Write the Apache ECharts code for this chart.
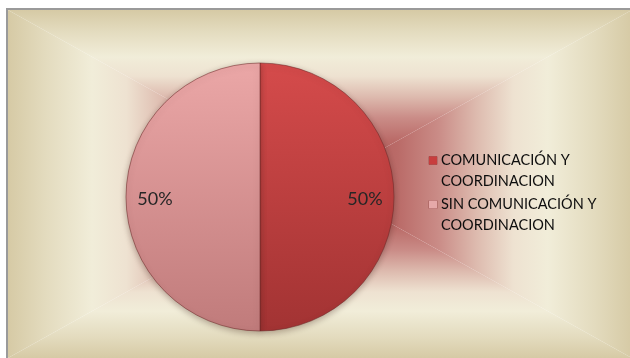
<!DOCTYPE html>
<html>
<head>
<meta charset="utf-8">
<script src="https://cdn.jsdelivr.net/npm/echarts@6/dist/echarts.min.js"></script>
<style>
  html, body { margin: 0; padding: 0; background: #ffffff; }
  #chart { width: 630px; height: 358px; }
</style>
</head>
<body>
<div id="chart"></div>
<script>
// Categories and their shares
const categories = ['COMUNICACIÓN Y COORDINACION', 'SIN COMUNICACIÓN Y COORDINACION'];
const values = [50, 50];

// Slice fills (top colour, bottom colour) and legend swatch colours
const sliceTop = ['#d54b4b', '#eba7a7'];
const sliceBottom = ['#a23333', '#c07b7b'];
const swatch = ['#c83e3e', '#e6a9a9'];

// Frame of the plot area
const W = 630, H = 358;
const fx0 = 8, fy0 = 10, fx1 = 632, fy1 = 358;
const cx = (fx0 + fx1) / 2, cy = (fy0 + fy1) / 2;

// Rectangular "from centre" backdrop: edge -> centre stops
const bgStops = [
  { offset: 0.00, color: '#d6caa5' },
  { offset: 0.12, color: '#e3dbbe' },
  { offset: 0.27, color: '#f1edd9' },
  { offset: 0.38, color: '#eee2d1' },
  { offset: 0.50, color: '#ddbaae' },
  { offset: 0.62, color: '#ca8c87' },
  { offset: 0.75, color: '#ba6b68' },
  { offset: 1.00, color: '#a84c4c' }
];
function grad(x, y, x2, y2) {
  return { type: 'linear', x: x, y: y, x2: x2, y2: y2, colorStops: bgStops };
}

const chart = echarts.init(document.getElementById('chart'), null, { renderer: 'canvas' });

const backdrop = [
  { type: 'rect', z: -10, shape: { x: 0, y: 0, width: W, height: H }, style: { fill: '#ffffff' } },
  { type: 'polygon', z: -9, shape: { points: [[fx0, fy0], [fx1, fy0], [cx, cy]] }, style: { fill: grad(0, 0, 0, 1), stroke: null } },
  { type: 'polygon', z: -9, shape: { points: [[fx0, fy1], [fx1, fy1], [cx, cy]] }, style: { fill: grad(0, 1, 0, 0), stroke: null } },
  { type: 'polygon', z: -9, shape: { points: [[fx0, fy0], [fx0, fy1], [cx, cy]] }, style: { fill: grad(0, 0, 1, 0), stroke: null } },
  { type: 'polygon', z: -9, shape: { points: [[fx1, fy0], [fx1, fy1], [cx, cy]] }, style: { fill: grad(1, 0, 0, 0), stroke: null } },
  { type: 'rect', z: -8, shape: { x: 6, y: 8, width: W - 6, height: 2 }, style: { fill: '#9a9a9a' } },
  { type: 'rect', z: -8, shape: { x: 6, y: 8, width: 2, height: H - 8 }, style: { fill: '#9a9a9a' } }
];

// Legend text: swatch + first line, indented second line
const rich = {
  g: { width: 4 },
  pad: { width: 12 },
  t: { fontFamily: 'Lato', fontSize: 14.5, lineHeight: 21, color: '#0d0d0d' }
};
swatch.forEach(function (c, i) {
  rich['sq' + i] = { width: 8, height: 8, backgroundColor: c, borderColor: 'rgba(120,40,40,0.5)', borderWidth: 0.5 };
});

chart.setOption({
  animation: false,
  graphic: backdrop,
  legend: {
    orient: 'vertical',
    left: 424,
    top: 153,
    padding: 0,
    itemGap: 8,
    itemWidth: 0,
    itemHeight: 8,
    icon: 'none',
    data: categories,
    formatter: function (name) {
      const i = categories.indexOf(name);
      const cut = name.lastIndexOf(' ');
      const a = name.slice(0, cut), b = name.slice(cut + 1);
      return '{sq' + i + '| }{g| }{t|' + a + '}\n{pad| }{t|' + b + '}';
    },
    textStyle: { rich: rich }
  },
  series: [{
    type: 'pie',
    center: [260, 197],
    radius: 134,
    startAngle: 90,
    clockwise: true,
    z: 2,
    itemStyle: {
      borderColor: 'rgba(110,40,40,0.55)',
      borderWidth: 1,
      shadowBlur: 6,
      shadowOffsetY: 2,
      shadowColor: 'rgba(60,30,20,0.35)'
    },
    label: {
      show: true,
      position: 'inside',
      formatter: '{d}%',
      fontFamily: 'Lato',
      fontSize: 18,
      color: '#262626'
    },
    labelLine: { show: false },
    emphasis: { disabled: true },
    data: categories.map(function (name, i) {
      return {
        name: name,
        value: values[i],
        itemStyle: {
          color: {
            type: 'linear', x: 0, y: 0, x2: 0, y2: 1,
            colorStops: [
              { offset: 0, color: sliceTop[i] },
              { offset: 1, color: sliceBottom[i] }
            ]
          }
        },
        label: { offset: [i === 0 ? 35 : -35, 2] }
      };
    })
  }]
});
</script>
</body>
</html>
